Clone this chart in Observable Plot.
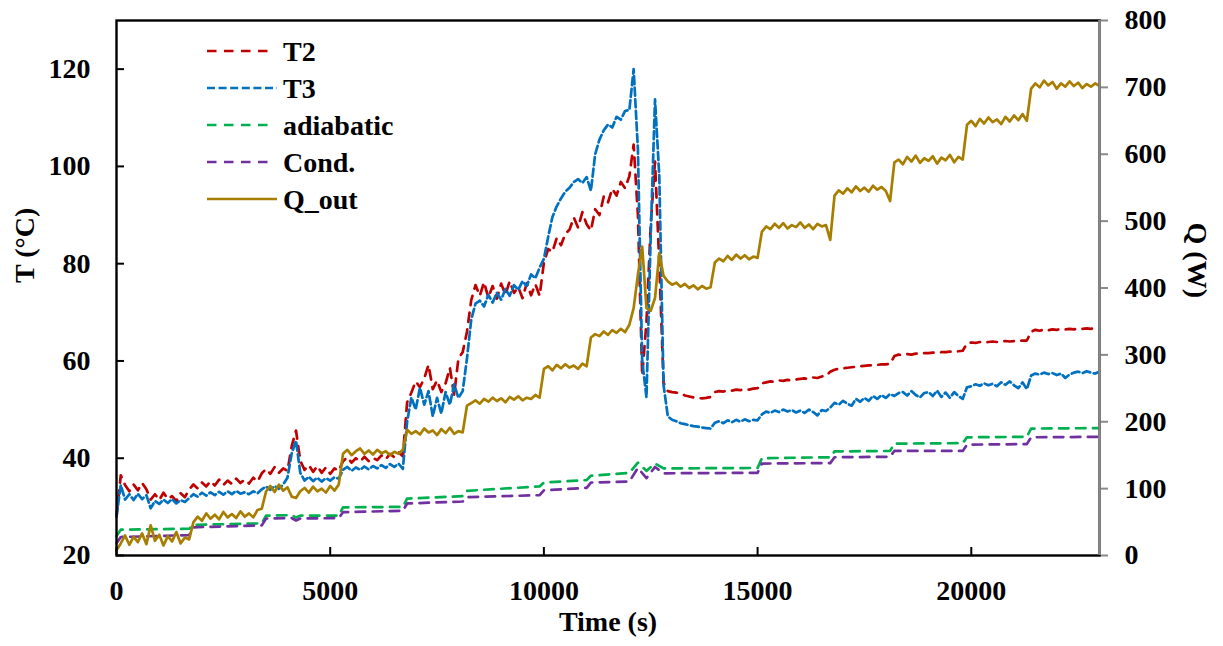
<!DOCTYPE html>
<html>
<head>
<meta charset="utf-8">
<script src="https://cdn.jsdelivr.net/npm/d3@7"></script>
<script src="https://cdn.jsdelivr.net/npm/@observablehq/plot@0.6"></script>
<style>
  html, body { margin: 0; padding: 0; background: #fff; }
  #chart { width: 1223px; height: 646px; }
</style>
</head>
<body>
<div id="chart"></div>
<script>
// Logged readings, one every 100 s
const sampleTime = [
  0,100,200,300,400,500,600,700,800,900,
  1000,1100,1200,1300,1400,1500,1600,1700,1800,1900,
  2000,2100,2200,2300,2400,2500,2600,2700,2800,2900,
  3000,3100,3200,3300,3400,3500,3600,3700,3800,3900,
  4000,4100,4200,4300,4400,4500,4600,4700,4800,4900,
  5000,5100,5200,5300,5400,5500,5600,5700,5800,5900,
  6000,6100,6200,6300,6400,6500,6600,6700,6800,6900,
  7000,7100,7200,7300,7400,7500,7600,7700,7800,7900,
  8000,8100,8200,8300,8400,8500,8600,8700,8800,8900,
  9000,9100,9200,9300,9400,9500,9600,9700,9800,9900,
  10000,10100,10200,10300,10400,10500,10600,10700,10800,10900,
  11000,11100,11200,11300,11400,11500,11600,11700,11800,11900,
  12000,12100,12200,12300,12400,12500,12600,12700,12800,12900,
  13000,13100,13200,13300,13400,13500,13600,13700,13800,13900,
  14000,14100,14200,14300,14400,14500,14600,14700,14800,14900,
  15000,15100,15200,15300,15400,15500,15600,15700,15800,15900,
  16000,16100,16200,16300,16400,16500,16600,16700,16800,16900,
  17000,17100,17200,17300,17400,17500,17600,17700,17800,17900,
  18000,18100,18200,18300,18400,18500,18600,18700,18800,18900,
  19000,19100,19200,19300,19400,19500,19600,19700,19800,19900,
  20000,20100,20200,20300,20400,20500,20600,20700,20800,20900,
  21000,21100,21200,21300,21400,21500,21600,21700,21800,21900,
  22000,22100,22200,22300,22400,22500,22600,22700,22800,22900,
  23000
];

// T2 (°C)
const t2Temp = [
  28.0,36.5,34.5,33.2,34.6,33.4,34.9,33.6,31.5,32.6,
  31.4,32.9,31.6,32.2,31.2,32.8,32.0,33.6,34.6,33.8,
  35.0,34.2,35.3,34.4,35.6,34.5,35.4,34.7,35.8,34.9,
  35.6,34.8,36.0,35.2,36.9,37.8,36.8,38.2,37.0,37.9,
  37.4,42.5,45.7,39.5,37.6,38.6,37.2,38.4,37.0,38.1,
  36.8,37.9,37.4,39.4,40.2,39.1,40.0,39.3,40.3,39.4,
  40.1,39.6,40.6,39.8,40.9,40.2,41.2,40.4,51.5,53.5,
  55.8,54.6,56.4,59.2,54.2,56.0,53.6,55.4,58.6,53.0,
  60.5,61.8,66.0,72.5,75.6,73.4,76.2,73.0,75.4,72.8,
  75.9,73.6,76.4,74.0,75.2,72.9,76.0,73.5,75.8,73.4,
  80.2,83.0,82.4,85.3,83.8,86.1,87.0,89.5,87.4,90.6,
  88.1,86.8,91.2,90.0,93.8,92.6,95.4,94.0,96.8,95.5,
  98.0,104.5,90.0,57.0,68.0,88.0,101.0,80.0,55.5,53.8,
  53.6,53.5,53.3,52.9,52.7,52.5,52.4,52.3,52.4,52.6,
  53.6,53.8,53.7,54.0,53.9,54.1,54.0,54.2,54.1,54.3,
  54.4,55.4,55.6,55.8,55.7,56.0,55.9,56.1,56.0,56.2,
  56.3,56.4,56.3,56.6,56.5,56.8,56.9,57.8,58.2,58.4,
  58.5,58.6,58.7,58.8,58.9,59.0,59.1,59.1,59.2,59.3,
  59.3,59.4,61.0,61.3,61.2,61.4,61.3,61.5,61.5,61.6,
  61.6,61.7,61.7,61.8,61.8,61.9,61.9,62.0,62.1,63.6,
  63.8,63.7,63.9,63.8,63.9,64.0,63.9,64.0,64.1,64.0,
  64.1,64.1,64.2,64.2,66.0,66.4,66.2,66.5,66.3,66.5,
  66.4,66.6,66.5,66.6,66.5,66.7,66.6,66.7,66.6,66.8,
  66.7
];

// T3 (°C)
const t3Temp = [
  28.0,34.5,31.5,32.6,31.4,32.7,31.6,32.4,29.7,31.2,
  30.6,31.5,30.8,31.6,30.7,31.4,31.0,31.8,32.6,32.1,
  32.9,32.3,33.0,32.4,33.1,32.5,33.2,32.6,33.3,32.7,
  33.0,32.6,33.2,32.8,33.6,34.2,33.5,34.3,33.7,34.6,
  36.0,41.0,43.6,37.0,35.4,36.2,35.3,36.0,35.2,35.9,
  35.4,36.1,35.8,37.6,38.2,37.4,38.1,37.6,38.3,37.7,
  38.4,37.9,38.6,38.0,38.8,38.2,38.9,37.8,47.5,52.5,
  50.0,54.5,51.0,53.8,48.6,52.4,49.2,53.6,51.0,55.2,
  52.4,53.8,60.5,68.5,71.8,72.4,71.2,73.6,72.0,74.0,
  72.6,74.8,73.4,75.6,74.6,76.4,75.4,77.8,77.0,79.2,
  81.0,85.5,89.6,91.8,93.4,94.8,95.6,96.8,97.4,96.6,
  97.8,95.0,102.5,105.5,107.4,108.6,108.0,110.2,109.6,111.4,
  111.6,120.0,103.5,60.0,52.5,86.0,113.8,98.0,55.0,48.6,
  47.9,47.6,47.2,47.0,46.8,46.6,46.5,46.3,46.2,46.1,
  47.3,47.6,47.2,47.8,47.4,47.9,47.5,48.0,47.6,47.9,
  47.8,49.0,49.6,49.3,49.8,49.5,50.0,49.6,49.9,49.4,
  49.8,49.3,50.0,49.5,48.8,49.9,49.7,50.4,51.4,51.0,
  51.8,51.2,50.8,52.2,51.6,52.4,51.8,52.8,52.2,53.0,
  52.4,53.2,52.8,53.4,53.6,52.9,53.8,53.0,52.5,53.4,
  53.6,52.8,53.9,52.6,53.5,52.4,53.6,52.8,52.2,54.6,
  54.8,55.2,54.9,55.4,55.0,55.3,54.8,55.6,55.1,55.8,
  55.0,54.4,55.6,54.2,57.0,57.4,57.2,57.6,57.3,57.5,
  57.1,57.4,56.5,57.2,57.6,57.8,57.5,57.9,57.6,57.4,
  57.8
];

// Q_out (W), read against the right-hand axis
const qOut = [
  8,18,30,16,28,20,33,17,45,22,
  31,15,29,21,35,18,27,24,50,58,
  52,63,55,61,54,65,57,62,56,66,
  58,63,57,68,70,96,104,95,106,97,
  102,88,86,96,101,94,103,96,100,94,
  104,97,106,152,158,150,156,160,152,157,
  151,158,153,156,150,155,152,158,188,182,
  186,181,190,184,187,180,189,183,191,182,
  186,184,224,228,232,227,234,230,236,231,
  235,229,237,233,238,232,236,234,240,236,
  279,283,277,285,280,286,281,284,279,287,
  283,326,331,328,335,330,337,333,339,334,
  345,370,420,462,370,366,385,452,418,410,
  405,408,402,406,400,404,398,403,399,401,
  438,444,440,448,442,450,444,449,443,447,
  445,484,492,488,496,490,497,489,494,491,
  498,490,495,488,496,492,494,472,538,546,
  541,549,543,552,545,550,544,553,547,551,
  545,530,588,592,585,596,589,598,587,594,
  590,597,586,595,591,599,588,596,592,644,
  650,642,653,646,655,648,652,645,656,649,
  658,651,660,650,698,706,700,710,703,708,
  698,706,701,709,702,707,699,705,701,706,
  702
];

// Adiabatic and condenser temperatures change in steps; these are the breakpoints
const stepTime = [0,100,1700,1800,3400,3500,4100,4200,4300,5200,5300,6700,6800,8100,8200,9900,10000,11000,11100,12000,12200,12400,12600,12800,15000,15100,16700,16800,18100,18200,19800,19900,21300,21400,23000];
const adiabaticTemp = [24.0,25.3,25.5,26.3,26.6,28.2,28.3,27.8,28.2,28.2,29.9,30.0,31.7,32.2,33.3,34.2,35.0,35.5,36.4,37.0,39.1,37.4,38.9,37.9,38.0,40.0,40.2,41.4,41.5,43.0,43.1,44.3,44.4,46.1,46.2];
const condTemp = [22.5,23.8,24.2,25.8,26.2,27.6,27.7,27.2,27.6,27.7,28.9,29.2,30.7,31.1,32.0,32.4,33.4,33.9,35.0,35.2,38.0,35.9,38.2,36.9,37.0,38.9,39.0,40.2,40.3,41.5,41.5,42.8,42.9,44.3,44.4];

const timeTicks = [0, 5000, 10000, 15000, 20000];
const tempTicks = [20, 40, 60, 80, 100, 120];
const powerTicks = [0, 100, 200, 300, 400, 500, 600, 700, 800];

const timeDomain = [0, 23000];
const tempDomain = [20, 130];
const powerDomain = [0, 800];

// Q_out shares the temperature scale: map watts onto it and back for the right axis
const powerToTemp = q => tempDomain[0] + (q - powerDomain[0]) / (powerDomain[1] - powerDomain[0]) * (tempDomain[1] - tempDomain[0]);
const tempToPower = v => powerDomain[0] + (v - tempDomain[0]) / (tempDomain[1] - tempDomain[0]) * (powerDomain[1] - powerDomain[0]);

const readings = sampleTime.map((t, i) => ({t, t2: t2Temp[i], t3: t3Temp[i], q: qOut[i]}));
const steps = stepTime.map((t, i) => ({t, adiabatic: adiabaticTemp[i], cond: condTemp[i]}));

const font = "'Liberation Serif', 'Times New Roman', serif";
const grey = "#8a8a8a";
const series = [
  {name: "T2", color: "#C00000", dash: "9.5,7.5"},
  {name: "T3", color: "#0070C0", dash: "8,3.6"},
  {name: "adiabatic", color: "#00B050", dash: "9.5,7.5"},
  {name: "Cond.", color: "#7030A0", dash: "9.5,7.5"},
  {name: "Q_out", color: "#A87E00", dash: null}
];
const lineWidth = 2.7;

const chart = Plot.plot({
  width: 1223,
  height: 646,
  marginLeft: 116,
  marginRight: 124,
  marginTop: 20,
  marginBottom: 91,
  x: {domain: timeDomain, label: null},
  y: {domain: tempDomain, label: null},
  style: {fontFamily: font, fontWeight: "bold", fontSize: "28px", color: "#000", background: "#fff", overflow: "visible"},
  marks: [
    Plot.line(readings, {x: "t", y: "t2", stroke: series[0].color, strokeWidth: lineWidth, strokeDasharray: series[0].dash}),
    Plot.line(readings, {x: "t", y: "t3", stroke: series[1].color, strokeWidth: lineWidth, strokeDasharray: series[1].dash}),
    Plot.line(steps, {x: "t", y: "adiabatic", stroke: series[2].color, strokeWidth: lineWidth, strokeDasharray: series[2].dash}),
    Plot.line(steps, {x: "t", y: "cond", stroke: series[3].color, strokeWidth: lineWidth, strokeDasharray: series[3].dash}),
    Plot.line(readings, {x: "t", y: d => powerToTemp(d.q), stroke: series[4].color, strokeWidth: lineWidth}),

    // bottom axis: inward ticks, labels below
    Plot.axisX({ticks: timeTicks, tickSize: -8, strokeWidth: 2, tickFormat: () => "", label: null}),
    Plot.axisX({ticks: timeTicks, tickSize: 0, tickPadding: 25, fontSize: 28, tickFormat: d => String(d), label: null}),
    // left axis: temperature
    Plot.axisY({ticks: tempTicks, anchor: "left", tickSize: -8, strokeWidth: 2, tickFormat: () => "", label: null}),
    Plot.axisY({ticks: tempTicks, anchor: "left", tickSize: 0, tickPadding: 26, fontSize: 28, tickFormat: d => String(d), label: null}),
    // right axis: heat output
    Plot.axisY({ticks: powerTicks.map(powerToTemp), anchor: "right", tickSize: 8, strokeWidth: 2, color: grey, tickFormat: () => "", label: null}),
    Plot.axisY({ticks: powerTicks.map(powerToTemp), anchor: "right", tickSize: 0, tickPadding: 25, fontSize: 28, tickFormat: d => String(Math.round(tempToPower(d))), label: null}),

    Plot.frame({stroke: "#000", strokeWidth: 2.4}),
    Plot.ruleX([timeDomain[1]], {stroke: grey, strokeWidth: 2.6}),

    Plot.text(["Time (s)"], {frameAnchor: "bottom", dy: 75, fontSize: 28, fontWeight: "bold"}),
    Plot.text(["T (°C)"], {frameAnchor: "left", dx: -91, dy: -5, rotate: -90, fontSize: 28, fontWeight: "bold"}),
    Plot.text(["Q (W)"], {frameAnchor: "right", dx: 97, dy: 10, rotate: 90, fontSize: 28, fontWeight: "bold"})
  ]
});

// Legend inside the plot area, top left
const legend = d3.select(chart).append("g")
  .attr("font-family", font)
  .attr("font-weight", "bold")
  .attr("font-size", 28)
  .attr("text-anchor", "start");
series.forEach((s, i) => {
  const y = 51 + i * 37;
  legend.append("line")
    .attr("x1", 207).attr("x2", s.dash && s.name !== "T3" ? 270 : 277)
    .attr("y1", y).attr("y2", y)
    .attr("stroke", s.color)
    .attr("stroke-width", lineWidth)
    .attr("stroke-dasharray", s.dash);
  legend.append("text")
    .attr("x", 283).attr("y", y + 10)
    .attr("text-anchor", "start")
    .attr("fill", "#000")
    .text(s.name);
});

document.getElementById("chart").appendChild(chart);
</script>
</body>
</html>
